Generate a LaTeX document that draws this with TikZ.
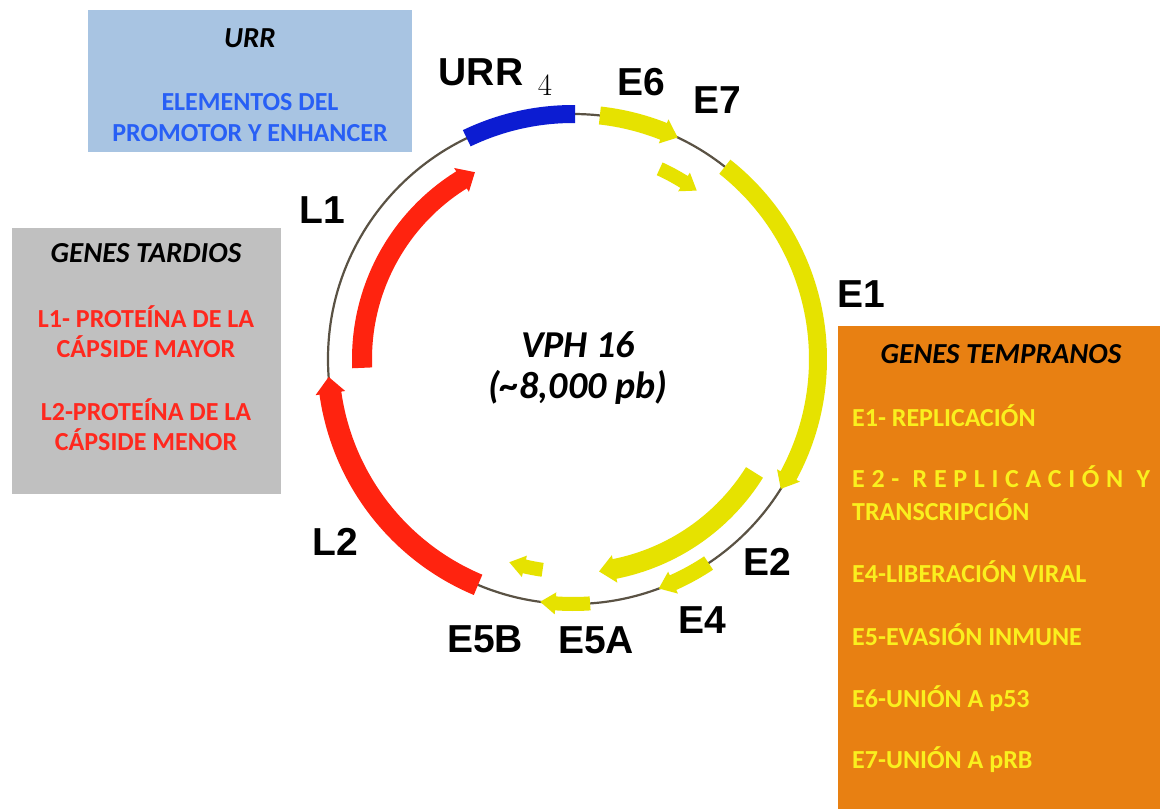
\documentclass[tikz,border=0pt]{standalone}
\usepackage{fontspec}
\newfontfamily\arl{Liberation Sans}
\newfontfamily\carl{Carlito}
\definecolor{gyel}{RGB}{230,226,0}
\definecolor{gred}{RGB}{255,35,15}
\definecolor{gblue}{RGB}{12,28,210}
\definecolor{ring}{RGB}{90,82,68}
\definecolor{bluebox}{RGB}{168,196,226}
\definecolor{graybox}{RGB}{192,192,192}
\definecolor{orbox}{RGB}{232,128,18}
\definecolor{bluetxt}{RGB}{40,95,245}
\definecolor{redtxt}{RGB}{255,40,30}
\definecolor{yeltxt}{RGB}{250,240,30}
\newcommand\gene[6]{\fill[#1] ({#4}:{#2+#3}) arc[start angle={#4}, end angle={#5-(#6)}, radius={#2+#3}] -- ({#5-(#6)}:{#2+#3+4}) -- ({#5}:{#2}) -- ({#5-(#6)}:{#2-#3-4}) -- ({#5-(#6)}:{#2-#3}) arc[start angle={#5-(#6)}, end angle={#4}, radius={#2-#3}] -- cycle;}
\begin{document}
\begin{tikzpicture}[x=1pt,y=1pt,
  lbl/.style={font=\arl\bfseries\fontsize{39}{42}\selectfont, anchor=base, inner sep=0pt},
  hdr/.style={font=\carl\bfseries\itshape\fontsize{29}{32}\selectfont, anchor=base, inner sep=0pt},
  btxt/.style={font=\carl\bfseries\fontsize{26}{30}\selectfont, anchor=base, inner sep=0pt},
  ctr/.style={font=\carl\bfseries\itshape\fontsize{38}{40}\selectfont, anchor=base, inner sep=0pt}]
\path[use as bounding box, fill=white] (0,0) rectangle (1160,-809);
% boxes
\fill[bluebox] (88,-10) rectangle (412,-152);
\fill[graybox] (12,-228) rectangle (281,-494);
\fill[orbox] (838,-326) rectangle (1160,-809);
% ring and genes
\begin{scope}[shift={(573,-359)}]
\draw[ring, line width=2.2pt] (0,0) circle[radius=245];
\fill[gblue] (89.5:254) arc[start angle=89.5, end angle=115.7, radius=254] -- (115.7:236) arc[start angle=115.7, end angle=89.5, radius=236] -- cycle;
\gene{gyel}{245}{9}{83.7}{64.7}{-3.6}
\gene{gyel}{209}{7}{65.5}{53.7}{-4.2}
\gene{gyel}{245}{9}{51.7}{-32}{-3.6}
\gene{gyel}{214}{10}{-32}{-83}{-4.2}
\gene{gyel}{245}{8}{-56.4}{-69.5}{-3.6}
\gene{gyel}{245}{7}{-86}{-97.7}{-3.6}
\gene{gyel}{213}{7}{-98.2}{-107.4}{-4.2}
\gene{gred}{245}{11}{247.2}{184.2}{-3.8}
\gene{gred}{211}{10}{182.4}{117.7}{-4.2}
\end{scope}
% labels
\node[lbl] (lurr) at (481,-85) {URR};
\node[font=\fontsize{31}{33}\selectfont, anchor=base, inner sep=0pt] (fn) at (545,-95) {4};
\node[lbl] (le6) at (641,-95) {E6};
\node[lbl] (le7) at (717,-113) {E7};
\node[lbl] (ll1) at (322,-223) {L1};
\node[lbl] (le1) at (861,-307) {E1};
\node[lbl] (ll2) at (335,-555) {L2};
\node[lbl] (le2) at (767,-575) {E2};
\node[lbl] (le4) at (702,-633) {E4};
\node[lbl] (le5b) at (485,-652) {E5B};
\node[lbl] (le5a) at (596,-653) {E5A};
% center
\node[ctr] (vph) at (578,-357) {VPH 16};
\node[ctr] (pb) at (578,-398) {(\textasciitilde8,000 pb)};
% URR box
\node[hdr] (urrh) at (250,-47) {URR};
\node[btxt, text=bluetxt] (urr1) at (250,-110) {ELEMENTOS DEL};
\node[btxt, text=bluetxt] (urr2) at (250,-141) {PROMOTOR Y ENHANCER};
% late box
\node[hdr] (lateh) at (146,-262) {GENES TARDIOS};
\node[btxt, text=redtxt] (l1a) at (146,-327) {L1- PROTEÍNA DE LA};
\node[btxt, text=redtxt] (l1b) at (146,-357) {CÁPSIDE MAYOR};
\node[btxt, text=redtxt] (l2a) at (146,-420) {L2-PROTEÍNA DE LA};
\node[btxt, text=redtxt] (l2b) at (146,-450) {CÁPSIDE MENOR};
% early box
\node[hdr] (earlyh) at (1001,-363) {GENES TEMPRANOS};
\begin{scope}[every node/.style={btxt, text=yeltxt, anchor=base west}]
\node (e1) at (852,-426) {E1- REPLICACIÓN};
\node (e2a) at (852,-487) {\makebox[298pt][s]{E\hfill2\hfill-\hfill\hfill R\hfill E\hfill P\hfill L\hfill I\hfill C\hfill A\hfill C\hfill I\hfill Ó\hfill N\hfill\hfill Y}};
\node (e2b) at (852,-520) {TRANSCRIPCIÓN};
\node (e4) at (852,-582) {E4-LIBERACIÓN VIRAL};
\node (e5) at (852,-645) {E5-EVASIÓN INMUNE};
\node (e6) at (852,-707) {E6-UNIÓN A p53};
\node (e7) at (852,-768) {E7-UNIÓN A pRB};
\end{scope}
\end{tikzpicture}
\end{document}
